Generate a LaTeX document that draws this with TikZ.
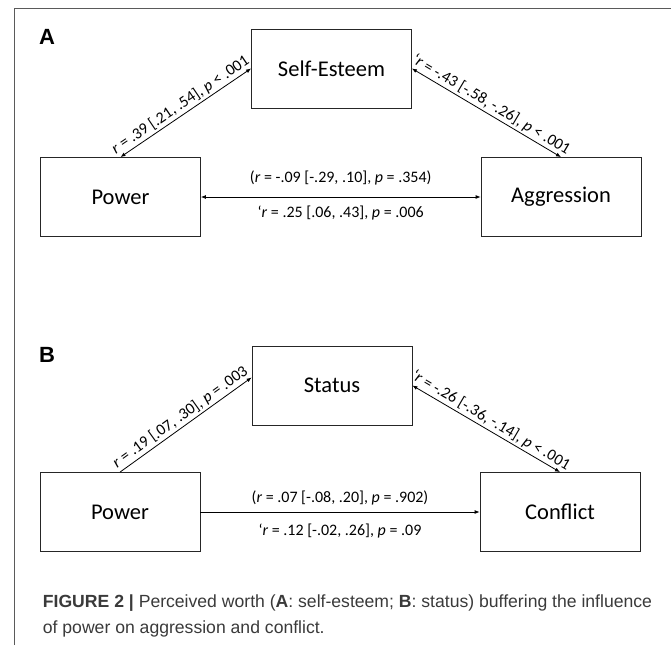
\documentclass[tikz,border=0pt]{standalone}
\usepackage{fontspec}
\setmainfont{Carlito}
\newfontfamily\capfont{Liberation Sans}
\usetikzlibrary{arrows.meta}
\definecolor{framegray}{HTML}{5A5A5A}
\definecolor{capgray}{HTML}{3A3A3A}
\tikzset{
	varbox/.style={draw=black!85,line width=0.8pt,minimum width=160pt,minimum height=79pt,font=\fontsize{22.5}{27}\selectfont},
	lbl/.style={font=\fontsize{16}{19}\selectfont,inner sep=2pt},
	panel/.style={font=\capfont\bfseries\fontsize{22}{26}\selectfont},
	link/.style={line width=0.8pt,-{Latex[length=5pt,width=4pt]}},
	dlink/.style={line width=0.8pt,{Latex[length=5pt,width=4pt]}-{Latex[length=5pt,width=4pt]}},
	caption/.style={anchor=base west,inner sep=0pt,text=capgray,font=\capfont\fontsize{17.6}{21}\selectfont}
}
\begin{document}
\begin{tikzpicture}[x=1pt,y=-1pt]
				\useasboundingbox (0,0) rectangle (671,645);
				\draw[framegray,line width=1pt] (14,645) -- (14,8.5) -- (671,8.5);
				\node[panel] (panelA) at (47,37) {A};
				\node[varbox] (selfesteem) at (331.5,68.5) {Self-Esteem};
				\node[varbox] (powerA) at (120.5,197) {Power};
				\node[varbox] (aggression) at (561,197) {Aggression};
				\draw[dlink] (powerA.north) -- (selfesteem.west) node[lbl,midway,sloped,above] {\textit{r} = .39 [.21, .54], \textit{p} < .001};
				\draw[dlink] (selfesteem.east) -- (aggression.north) node[lbl,midway,sloped,above] {‘\textit{r} = -.43 [-.58, -.26], \textit{p} < .001};
				\draw[dlink] (powerA.east) -- (aggression.west) node[lbl,midway,above=10pt] {(\textit{r} = -.09 [-.29, .10], \textit{p} = .354)} node[lbl,midway,below=7pt] {‘\textit{r} = .25 [.06, .43], \textit{p} = .006};
				\node[panel] (panelB) at (47,355) {B};
				\node[varbox] (status) at (332,385.5) {Status};
				\node[varbox] (powerB) at (120,512) {Power};
				\node[varbox] (conflict) at (560,512) {Conflict};
				\draw[link] (powerB.north) -- ([yshift=8pt]status.west) node[lbl,midway,sloped,above] {\textit{r} = .19 [.07, .30], \textit{p} = .003};
				\draw[dlink] (status.east) -- (conflict.north) node[lbl,midway,sloped,above] {‘\textit{r} = -.26 [-.36, -.14], \textit{p} < .001};
				\draw[link] (powerB.east) -- (conflict.west) node[lbl,midway,above=5pt] {(\textit{r} = .07 [-.08, .20], \textit{p} = .902)} node[lbl,midway,below=10pt] {‘\textit{r} = .12 [-.02, .26], \textit{p} = .09};
				\node[caption] (caption1) at (42.7,607) {\textbf{FIGURE 2 |} Perceived worth (\textbf{A}: self-esteem; \textbf{B}: status) buffering the influence};
				\node[caption] (caption2) at (42.7,633) {of power on aggression and conflict.};
			\end{tikzpicture}
\end{document}
